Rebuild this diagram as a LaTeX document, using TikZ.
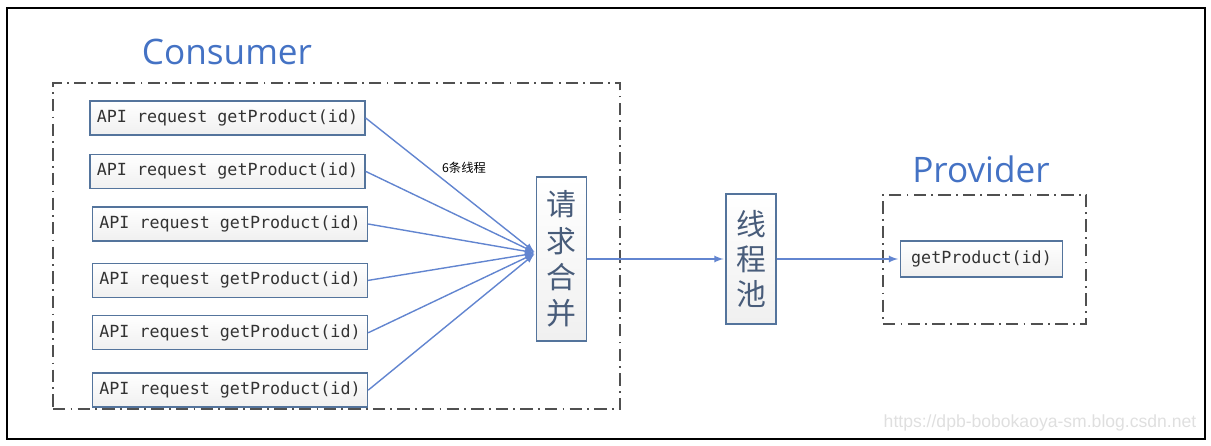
\documentclass[tikz,border=0pt]{standalone}
\usepackage{fontspec}
\setmonofont{DejaVu Sans Mono}
\setsansfont{Liberation Sans}
\newfontfamily\cjk{Noto Sans CJK SC}
\newfontfamily\headfont{Open Sans}
\usepackage{tikz}
\usetikzlibrary{arrows}
\usetikzlibrary{positioning}
\definecolor{boxline}{RGB}{84,116,156}
\definecolor{wireblue}{RGB}{98,133,208}
\definecolor{headblue}{RGB}{68,114,196}
\definecolor{cjkgray}{RGB}{72,92,122}
\definecolor{groupline}{RGB}{80,80,80}
\tikzstyle{Merge_style}=[
	->,>=latex,shorten >=1pt,x=0.02cm,y=-0.02cm,
	call/.style={rectangle,draw=boxline,line width=0.8pt,top color=white,bottom color=gray!12,minimum width=5.5cm,minimum height=0.68cm,text=black!80,font=\ttfamily\fontsize{9.5}{11}\selectfont},
	stack/.style={rectangle,draw=boxline,line width=0.8pt,top color=white,bottom color=gray!12,minimum width=1cm,align=center,text=cjkgray,font=\cjk\fontsize{17}{20.6}\selectfont},
	group/.style={rectangle,draw=groupline,line width=1.1pt,dash pattern=on 7pt off 3pt on 1pt off 3pt},
	head/.style={rectangle,draw=none,text=headblue,font=\headfont\fontsize{20}{24}\selectfont},
	wire/.style={color=wireblue,line width=0.8pt}
]

\begin{document}
\begin{tikzpicture}[Merge_style]
	\useasboundingbox (0,0) rectangle (1211,446);
	\draw[-,line width=1.6pt] (7,8) rectangle (1205,439);
	
	%consumer side
	\node[group,minimum width=11.34cm,minimum height=6.52cm] (cons) at (336.5,246) {};
	\node[head] (cons_l) at (227,52) {Consumer};
	
	\node[call] (api1) at (227.5,118) {API request getProduct(id)};
	\node[call] (api2) [below=0.36cm of api1] {API request getProduct(id)};
	\node[call] (api3) at (230,224) {API request getProduct(id)};
	\node[call] (api4) [below=0.42cm of api3] {API request getProduct(id)};
	\node[call] (api5) [below=0.34cm of api4] {API request getProduct(id)};
	\node[call] (api6) [below=0.44cm of api5] {API request getProduct(id)};
	
	\node[stack,minimum height=3.28cm] (merge) at (561.5,259) {请\\求\\合\\并};
	\coordinate (join) at ([yshift=0.12cm]merge.west);
	\node[font=\cjk\fontsize{7}{8}\selectfont] (threads) at (464,168) {6条线程};
	
	%pool
	\node[stack,minimum height=2.6cm,font=\cjk\fontsize{17}{20}\selectfont] (pool) at (751,259) {线\\程\\池};
	
	%provider side
	\node[group,minimum width=4.06cm,minimum height=2.58cm] (prov) at (984.5,259.5) {};
	\node[head] (prov_l) at (981,169) {Provider};
	\node[call,minimum width=3.24cm,minimum height=0.72cm] (getp) at (981.5,259) {getProduct(id)};
	
	\node[font=\sffamily\fontsize{10}{12}\selectfont,text=gray!25] (mark) at (1040,423) {https://dpb-bobokaoya-sm.blog.csdn.net};
	
	\path[wire] (api1.east) edge (join)
	(api2.east) edge (join)
	(api3.east) edge (join)
	(api4.east) edge (join)
	(api5.east) edge (join)
	(api6.east) edge (join)
	(merge.east) edge (pool.west)
	(pool.east) edge (getp.west);
	
\end{tikzpicture}
\end{document}
